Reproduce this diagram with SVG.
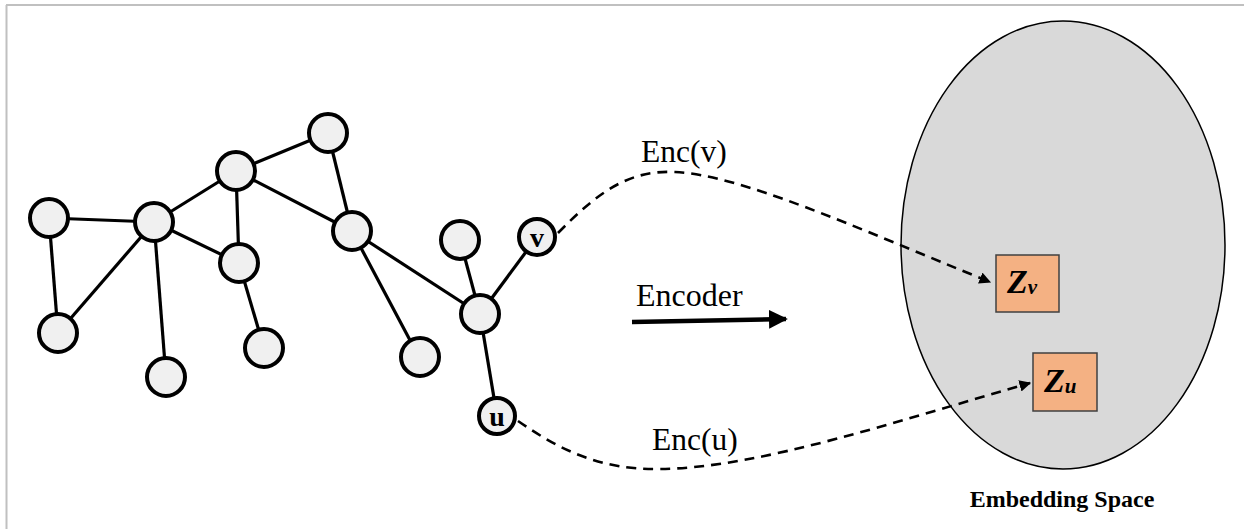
<svg xmlns="http://www.w3.org/2000/svg" width="1244" height="529" viewBox="0 0 1244 529">
<defs>
<style>
.node circle{fill:#f0f0f0;stroke:#000;stroke-width:4}
.edge{stroke:#000;stroke-width:3.2;fill:none}
.dash{stroke:#000;stroke-width:2.6;fill:none;stroke-dasharray:10 7}
.lbl{font-family:"Liberation Serif","Times New Roman",serif;fill:#000}
.box rect{fill:#f4b183;stroke:#404040;stroke-width:1.5}
</style>
<marker id="ah" viewBox="0 0 10 10" refX="9" refY="5" markerWidth="4.5" markerHeight="4.5" orient="auto" markerUnits="strokeWidth">
<path d="M0,0 L10,5 L0,10 z" fill="#000"/>
</marker>
<marker id="ahb" viewBox="0 0 10 10" refX="9" refY="5" markerWidth="4.2" markerHeight="4.2" orient="auto" markerUnits="strokeWidth">
<path d="M0,0 L10,5 L0,10 z" fill="#000"/>
</marker>
</defs>
<rect width="1244" height="529" fill="#fff"/>
<g id="frame" stroke="#c0c0c0" stroke-width="2">
<line x1="6" y1="5" x2="1244" y2="5"/>
<line x1="6.5" y1="5" x2="6.5" y2="529"/>
</g>
<g id="embedding-space">
<ellipse cx="1063" cy="245" rx="162" ry="224" fill="#d9d9d9" stroke="#000" stroke-width="1.5"/>
<text class="lbl" x="1062" y="507" font-size="24" font-weight="bold" text-anchor="middle">Embedding Space</text>
</g>
<g id="connectors">
<line class="edge" x1="49" y1="218" x2="154" y2="222"/>
<line class="edge" x1="49" y1="218" x2="58" y2="333"/>
<line class="edge" x1="58" y1="333" x2="154" y2="222"/>
<line class="edge" x1="154" y1="222" x2="236" y2="171"/>
<line class="edge" x1="154" y1="222" x2="239" y2="263"/>
<line class="edge" x1="154" y1="222" x2="166" y2="377"/>
<line class="edge" x1="236" y1="171" x2="239" y2="263"/>
<line class="edge" x1="236" y1="171" x2="328" y2="133"/>
<line class="edge" x1="236" y1="171" x2="352" y2="231"/>
<line class="edge" x1="328" y1="133" x2="352" y2="231"/>
<line class="edge" x1="239" y1="263" x2="264" y2="348"/>
<line class="edge" x1="352" y1="231" x2="480" y2="314"/>
<line class="edge" x1="352" y1="231" x2="420" y2="359"/>
<line class="edge" x1="460" y1="240" x2="480" y2="314"/>
<line class="edge" x1="537" y1="237" x2="480" y2="314"/>
<line class="edge" x1="480" y1="314" x2="497" y2="416"/>
<path class="dash" d="M558,233 C600,190 630,170 675,172 C740,175 850,225 990,282" marker-end="url(#ah)"/>
<path class="dash" d="M518,421 C560,450 600,470 660,469 C760,468 900,420 1030,383" marker-end="url(#ah)"/>
<line x1="632" y1="322" x2="786" y2="319" stroke="#000" stroke-width="4.5" marker-end="url(#ahb)"/>
</g>
<g id="labels">
<text class="lbl" x="641" y="162" font-size="31.5">Enc(v)</text>
<text class="lbl" x="636" y="306" font-size="32">Encoder</text>
<text class="lbl" x="652" y="450" font-size="31.5">Enc(u)</text>
</g>
<g id="n1" class="node"><circle cx="49" cy="218" r="19"/></g>
<g id="n2" class="node"><circle cx="154" cy="222" r="19"/></g>
<g id="n3" class="node"><circle cx="236" cy="171" r="19"/></g>
<g id="n4" class="node"><circle cx="328" cy="133" r="19"/></g>
<g id="n5" class="node"><circle cx="239" cy="263" r="19"/></g>
<g id="n6" class="node"><circle cx="58" cy="333" r="19"/></g>
<g id="n7" class="node"><circle cx="166" cy="377" r="19"/></g>
<g id="n8" class="node"><circle cx="264" cy="348" r="19"/></g>
<g id="n9" class="node"><circle cx="352" cy="231" r="19"/></g>
<g id="n10" class="node"><circle cx="420" cy="357" r="19"/></g>
<g id="n11" class="node"><circle cx="460" cy="240" r="19"/></g>
<g id="n12" class="node"><circle cx="480" cy="314" r="19"/></g>
<g id="node-v" class="node"><circle cx="537" cy="237" r="18"/><text class="lbl" x="537" y="247" font-size="28" font-weight="bold" text-anchor="middle">v</text></g>
<g id="node-u" class="node"><circle cx="497" cy="416" r="18"/><text class="lbl" x="497" y="426" font-size="28" font-weight="bold" text-anchor="middle">u</text></g>
<g id="zv" class="box"><rect x="996" y="255" width="63" height="57"/><text class="lbl" x="1007" y="293" font-size="34" font-weight="bold" font-style="italic">Z<tspan font-size="21" dy="1">v</tspan></text></g>
<g id="zu" class="box"><rect x="1033" y="353" width="64" height="58"/><text class="lbl" x="1044" y="392" font-size="34" font-weight="bold" font-style="italic">Z<tspan font-size="21" dy="1">u</tspan></text></g>
</svg>
